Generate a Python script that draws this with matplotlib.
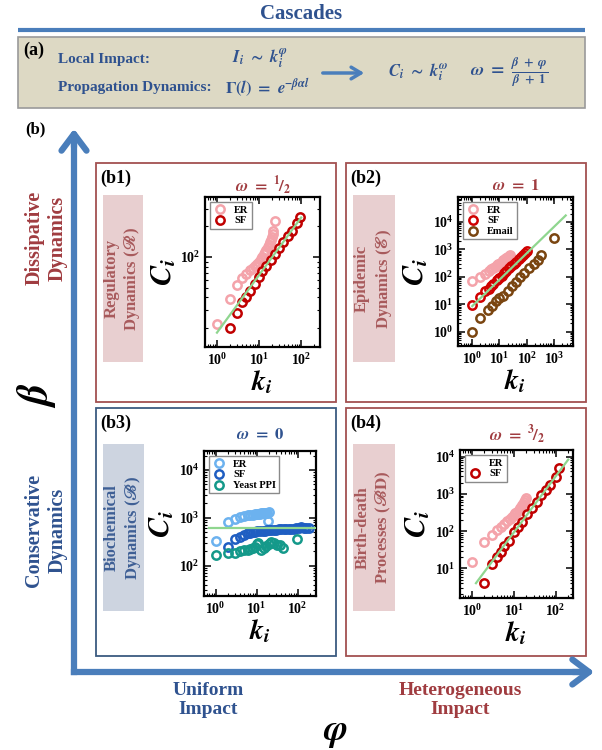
import matplotlib
matplotlib.use("Agg")
import matplotlib.pyplot as plt
from matplotlib.patches import Rectangle
from matplotlib.lines import Line2D
from matplotlib.ticker import NullFormatter, LogLocator

plt.rcParams['font.family'] = ['Liberation Serif', 'DejaVu Serif']
plt.rcParams['font.weight'] = 'bold'
plt.rcParams['mathtext.fontset'] = 'stix'

W, H = 602, 750
BLUE = '#2f528f'
RED = '#a03c40'
ARROW = '#4a7ebb'
GREEN = '#8fd68f'
PINK = '#f4a3aa'
DARKRED = '#c00000'

# (b1) regulatory dynamics
b1_er_k = [1, 2, 3, 4, 5, 6, 7, 8, 9, 10, 11, 12, 13, 14, 15, 16, 17, 18, 19, 20, 21, 22, 24]
b1_er_c = [22, 39, 53, 62, 68, 75, 78, 82, 86, 90, 95, 100, 106, 112, 118, 125, 132, 140, 148, 157, 167, 180, 225]
b1_sf_k = [2, 3, 4, 5, 6, 8, 10, 12, 15, 19, 24, 30, 38, 48, 60, 78, 92]
b1_sf_c = [20, 28, 36, 40, 46, 54, 63, 73, 81, 93, 107, 122, 142, 160, 179, 217, 250]
b1_fit_k = [1, 100]
b1_fit_c = [18, 245]

# (b2) epidemic dynamics
b2_er_k = [1, 2, 3, 4, 5, 6, 7, 8, 9, 10, 11, 12, 13, 14, 15, 16, 17, 18, 20, 22, 25]
b2_er_c = [68, 95, 130, 160, 185, 210, 235, 260, 280, 300, 325, 350, 370, 395, 420, 440, 465, 490, 540, 590, 640]
b2_sf_k = [1, 2, 3, 4, 5, 6, 8, 10, 12, 15, 18, 22, 27, 33, 40, 50, 60, 75, 90, 105]
b2_sf_c = [9, 19, 29, 37, 46, 56, 74, 92, 110, 138, 165, 200, 245, 295, 355, 430, 510, 630, 740, 860]
b2_em_k = [1, 2, 3.7, 5.4, 7.5, 10, 13, 20, 29, 41, 58, 82, 125, 180, 250, 330, 1000]
b2_em_c = [1, 3.2, 6, 8.7, 13, 17, 20, 31, 46, 65, 94, 140, 205, 290, 420, 620, 2600]
b2_fit_k = [1, 2700]
b2_fit_c = [8.5, 17000]

# (b3) biochemical dynamics
b3_er_k = [1, 2, 3, 4, 5, 6, 7, 8, 9, 10, 11, 12, 13, 14, 15, 16, 17, 18, 19, 20]
b3_er_c = [330, 800, 950, 1050, 1100, 1130, 1150, 1170, 1190, 1200, 1210, 1220, 1230, 1240,
           1250, 1260, 1270, 1280, 850, 1290]
b3_sf_k = [2, 3, 4, 5, 6, 7, 8, 9, 10, 12, 14, 16, 18, 20, 23, 26, 30, 35, 40, 46, 53, 60, 70,
           80, 92, 105, 120, 140, 160, 185]
b3_sf_c = [245, 355, 405, 440, 470, 490, 505, 515, 520, 530, 535, 540, 545, 550, 555, 560, 565,
           570, 570, 575, 580, 585, 590, 595, 600, 610, 630, 620, 610, 600]
b3_ye_k = [1, 2, 3, 4, 5, 6, 7, 8, 9, 10, 11, 13, 15, 17, 20, 23, 27, 32, 38, 45, 95]
b3_ye_c = [170, 185, 180, 205, 215, 210, 220, 235, 250, 280, 290, 215, 235, 260, 285, 305, 295,
           265, 275, 230, 360]
b3_fit_k = [0.7, 260]
b3_fit_c = [600, 600]

# (b4) birth-death processes
b4_er_k = [1, 2, 3, 4, 5, 6, 7, 8, 9, 10, 11, 12, 13, 14, 15, 16, 17, 18, 19, 20]
b4_er_c = [15, 50, 78, 105, 130, 158, 185, 210, 240, 270, 300, 335, 370, 410, 450, 495, 545, 600, 670, 750]
b4_sf_k = [2, 3, 4, 5, 6, 7.5, 10, 12.5, 16, 21, 28, 36, 45, 58, 74, 100, 122]
b4_sf_c = [4, 13, 20, 28, 39, 55, 95, 132, 180, 280, 410, 600, 930, 1300, 1750, 2900, 4800]
b4_fit_k = [1.25, 200]
b4_fit_c = [4, 8300]


def frac(l, t, r, b):
    return [l / W, 1 - b / H, (r - l) / W, (b - t) / H]


fig = plt.figure(figsize=(6.02, 7.5), dpi=100)
bg = fig.add_axes([0, 0, 1, 1])
bg.set_xlim(0, W)
bg.set_ylim(H, 0)
bg.axis('off')

# header
bg.text(301, 14, 'Cascades', ha='center', va='center', fontsize=15, color=BLUE)
bg.plot([18, 585], [30, 30], color=ARROW, lw=3, solid_capstyle='butt')
bg.add_patch(Rectangle((18, 37), 567, 71, facecolor='#ddd9c4', edgecolor='#9a9a9a', lw=1.2))
bg.text(23, 50, '(a)', ha='left', va='center', fontsize=13, color='black')
bg.text(58, 60, 'Local Impact:', ha='left', va='center', fontsize=11, color=BLUE)
bg.text(58, 88, 'Propagation Dynamics:', ha='left', va='center', fontsize=11, color=BLUE)
bg.text(232, 58, r'$\mathbfit{I_i}\ \sim\ \mathbfit{k_i^{\varphi}}$', ha='left', va='center',
        fontsize=12, color=BLUE)
bg.text(225, 88, r'$\mathbf{\Gamma}(\mathbfit{l})\ =\ \mathbfit{e^{-\beta\alpha l}}$', ha='left',
        va='center', fontsize=12, color=BLUE)
bg.annotate('', xy=(367, 73), xytext=(320, 73),
            arrowprops=dict(arrowstyle='->,head_length=0.5,head_width=0.3', lw=2.5,
                            color=ARROW, mutation_scale=14))
bg.text(388, 72, r'$\mathbfit{C_i}\ \sim\ \mathbfit{k_i^{\omega}}$', ha='left', va='center',
        fontsize=12, color=BLUE)
bg.text(470, 73, r'$\mathbfit{\omega}\ =\ \frac{\mathbfit{\beta}\ +\ \mathbfit{\varphi}}{\mathbfit{\beta}\ +\ \mathbf{1}}$',
        ha='left', va='center', fontsize=13, color=BLUE)

# axes arrows
bg.text(25, 129, '(b)', ha='left', va='center', fontsize=12, color='black')
bg.plot([74, 74], [672, 140], color=ARROW, lw=4.5, solid_capstyle='projecting')
bg.plot([74, 585], [672, 672], color=ARROW, lw=4.5, solid_capstyle='projecting')
bg.annotate('', xy=(74, 126), xytext=(74, 150),
            arrowprops=dict(arrowstyle='->,head_length=0.6,head_width=0.45', lw=4.5,
                            color=ARROW, mutation_scale=20))
bg.annotate('', xy=(597, 672), xytext=(570, 672),
            arrowprops=dict(arrowstyle='->,head_length=0.6,head_width=0.45', lw=4.5,
                            color=ARROW, mutation_scale=20))
bg.text(46, 238, 'Dissipative\nDynamics', rotation=90, ha='center', va='center',
        fontsize=14.5, color=RED, multialignment='center')
bg.text(46, 530, 'Conservative\nDynamics', rotation=90, ha='center', va='center',
        fontsize=14.5, color=BLUE, multialignment='center')
bg.text(36, 395, r'$\mathbfit{\beta}$', rotation=90, ha='center', va='center', fontsize=30,
        color='black')
bg.text(208, 700, 'Uniform\nImpact', ha='center', va='center', fontsize=14, color=BLUE,
        multialignment='center')
bg.text(460, 700, 'Heterogeneous\nImpact', ha='center', va='center', fontsize=14, color=RED,
        multialignment='center')
bg.text(335, 733, r'$\mathbfit{\varphi}$', ha='center', va='center', fontsize=26, color='black')

panels = [
    dict(box=(96, 163, 336, 402), edge='#a35050', side=(103, 195, 143, 362), sidecol='#e8cfd0',
         sidetxt='Regulatory\nDynamics ($\\mathscr{R}$)', txtcol='#a85a5c', tag='(b1)',
         title=r'$\mathbfit{\omega}\ \mathbf{=}\ {}^{\mathbf{1}}\!/_{\mathbf{2}}$', tcol=RED, ty=186,
         ax=(205, 197, 320, 347), xlim=(0.52, 280), ylim=(13, 390),
         series=[(b1_er_k, b1_er_c, PINK, 'ER'), (b1_sf_k, b1_sf_c, DARKRED, 'SF')],
         fit=(b1_fit_k, b1_fit_c)),
    dict(box=(346, 163, 586, 402), edge='#a35050', side=(353, 195, 395, 362), sidecol='#e8cfd0',
         sidetxt='Epidemic\nDynamics ($\\mathscr{E}$)', txtcol='#a85a5c', tag='(b2)',
         title=r'$\mathbfit{\omega}\ \mathbf{=\ 1}$', tcol=RED, ty=186,
         ax=(458, 197, 573, 346), xlim=(0.3, 5000), ylim=(0.3, 8e4),
         series=[(b2_er_k, b2_er_c, PINK, 'ER'), (b2_sf_k, b2_sf_c, '#d00000', 'SF'),
                 (b2_em_k, b2_em_c, '#7a4510', 'Email')],
         fit=(b2_fit_k, b2_fit_c)),
    dict(box=(96, 408, 336, 656), edge='#3b5a80', side=(103, 444, 144, 611), sidecol='#cdd4e0',
         sidetxt='Biochemical\nDynamics ($\\mathscr{B}$)', txtcol='#3e5f95', tag='(b3)',
         title=r'$\mathbfit{\omega}\ \mathbf{=\ 0}$', tcol=BLUE, ty=435,
         ax=(204, 451, 316, 596), xlim=(0.52, 280), ylim=(23, 25000),
         series=[(b3_er_k, b3_er_c, '#6cb2ef', 'ER'), (b3_sf_k, b3_sf_c, '#1f5ec2', 'SF'),
                 (b3_ye_k, b3_ye_c, '#14998a', 'Yeast PPI')],
         fit=(b3_fit_k, b3_fit_c)),
    dict(box=(346, 408, 586, 656), edge='#a35050', side=(353, 444, 395, 611), sidecol='#e8cfd0',
         sidetxt='Birth-death\nProcesses ($\\mathscr{BD}$)', txtcol='#a85a5c', tag='(b4)',
         title=r'$\mathbfit{\omega}\ \mathbf{=}\ {}^{\mathbf{3}}\!/_{\mathbf{2}}$', tcol=RED, ty=435,
         ax=(460, 450, 573, 598), xlim=(0.52, 260), ylim=(1.6, 1.5e4),
         series=[(b4_er_k, b4_er_c, PINK, 'ER'), (b4_sf_k, b4_sf_c, DARKRED, 'SF')],
         fit=(b4_fit_k, b4_fit_c), hide_er=True),
]

for p in panels:
    l, t, r, b = p['box']
    bg.add_patch(Rectangle((l, t), r - l, b - t, facecolor='white', edgecolor=p['edge'], lw=1.3))
    sl, st, sr, sb = p['side']
    bg.add_patch(Rectangle((sl, st), sr - sl, sb - st, facecolor=p['sidecol'], edgecolor='none'))
    bg.text((sl + sr) / 2, (st + sb) / 2, p['sidetxt'], rotation=90, ha='center', va='center',
            fontsize=12, color=p['txtcol'], multialignment='center')
    bg.text(l + 4, t + 15, p['tag'], ha='left', va='center', fontsize=13, color='black')
    al, at, ar, ab = p['ax']
    bg.text((al + ar) / 2, p['ty'], p['title'], ha='center', va='center', fontsize=12,
            color=p['tcol'])

    ax = fig.add_axes(frac(*p['ax']))
    handles = []
    for k, c, col, lab in p['series']:
        ax.plot(k, c, 'o', ms=6, mfc='none', mec=col, mew=1.8, zorder=2)
        if lab == 'ER' and p.get('hide_er'):
            handles.append(Line2D([], [], marker='o', ls='none', mfc='none', mec='none', label=lab))
        else:
            handles.append(Line2D([], [], marker='o', ls='none', ms=6, mfc='none', mec=col,
                                  mew=1.8, label=lab))
    ax.plot(p['fit'][0], p['fit'][1], color=GREEN, lw=1.6, zorder=3)
    ax.set_xscale('log')
    ax.set_yscale('log')
    ax.set_xlim(*p['xlim'])
    ax.set_ylim(*p['ylim'])
    for axis in (ax.xaxis, ax.yaxis):
        axis.set_major_locator(LogLocator(base=10, numticks=15))
        axis.set_minor_locator(LogLocator(base=10, subs=[2, 3, 4, 5, 6, 7, 8, 9], numticks=15))
        axis.set_minor_formatter(NullFormatter())
    ax.tick_params(which='both', direction='in', top=True, right=True, labelsize=10)
    ax.tick_params(which='major', length=5, width=1.1)
    ax.tick_params(which='minor', length=2.5, width=0.8)
    for s in ax.spines.values():
        s.set_linewidth(1.6)
    ax.set_xlabel(r'$\mathbfit{k_i}$', fontsize=20, labelpad=0)
    ax.set_ylabel(r'$\mathbfit{C_i}$', fontsize=22, labelpad=1)
    leg = ax.legend(handles=handles, loc='upper left', prop=dict(size=7.5, weight='bold'),
                    fancybox=False, edgecolor='#8a8a8a', framealpha=1, borderpad=0.3,
                    labelspacing=0.15, handletextpad=0.8, handlelength=1.2,
                    borderaxespad=0.5)
    leg.get_frame().set_linewidth(1.0)

fig.savefig('out.png', dpi=100)
